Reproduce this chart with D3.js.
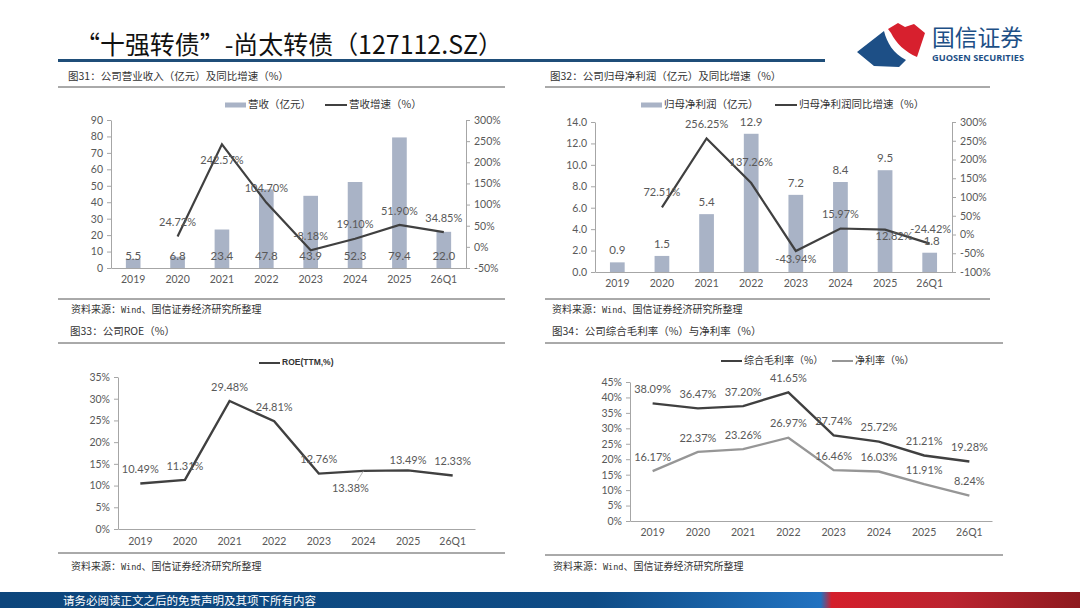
<!DOCTYPE html>
<html><head><meta charset="utf-8">
<script src="https://cdn.jsdelivr.net/npm/d3@7"></script>
<style>
html,body{margin:0;padding:0;background:#fff;}
svg{display:block;}
</style></head><body>
<svg id="c" width="1080" height="608"></svg>
<script>
// ---------- data ----------
const categories = ["2019","2020","2021","2022","2023","2024","2025","26Q1"];
const revenue = [5.5, 6.8, 23.4, 47.8, 43.9, 52.3, 79.4, 22.0];
const revenueGrowth = [null, 24.72, 242.57, 104.70, -8.18, 19.10, 51.90, 34.85];
const netProfit = [0.9, 1.5, 5.4, 12.9, 7.2, 8.4, 9.5, 1.8];
const netProfitGrowth = [null, 72.51, 256.25, 137.26, -43.94, 15.97, 12.82, -24.42];
const roe = [10.49, 11.31, 29.48, 24.81, 12.76, 13.38, 13.49, 12.33];
const grossMargin = [38.09, 36.47, 37.20, 41.65, 27.74, 25.72, 21.21, 19.28];
const netMargin = [16.17, 22.37, 23.26, 26.97, 16.46, 16.03, 11.91, 8.24];

const revTicks = [0,10,20,30,40,50,60,70,80,90];
const revGrowthTicks = [-50,0,50,100,150,200,250,300];
const profitTicks = [0,2,4,6,8,10,12,14];
const profitGrowthTicks = [-100,-50,0,50,100,150,200,250,300];
const roeTicks = [0,5,10,15,20,25,30,35];
const marginTicks = [0,5,10,15,20,25,30,35,40,45];

const pageTitle = "“十强转债”-尚太转债（127112.SZ）";
const chartTitles = ["图31：公司营业收入（亿元）及同比增速（%）","图32：公司归母净利润（亿元）及同比增速（%）","图33：公司ROE（%）","图34：公司综合毛利率（%）与净利率（%）"];
const sourceText = "资料来源：Wind、国信证券经济研究所整理";
const footerText = "请务必阅读正文之后的免责声明及其项下所有内容";

// ---------- styles ----------
const CJK = "'Noto Sans CJK SC','Noto Sans',sans-serif";
const NUM = "Lato,'Liberation Sans',sans-serif";
const AX = "#a6a6a6", TXT = "#595959", BAR = "#a9b3c6", DARK = "#404040", LIGHT = "#969696";

const svg = d3.select("#c");
svg.append("rect").attr("width",1080).attr("height",608).attr("fill","#fff");

// header
svg.append("text").attr("x",75).attr("y",54).attr("font-family",CJK).attr("font-size",25)
  .attr("fill","#111").attr("textLength",428).attr("lengthAdjust","spacingAndGlyphs").text(pageTitle);
svg.append("rect").attr("x",58).attr("y",59).attr("width",767).attr("height",3).attr("fill","#1f4e79");

// logo
const logo = svg.append("g");
logo.append("path").attr("d","M857,52 L884,31 C887,43 893,53 906,60 L899,67 L874,66 Z").attr("fill","#1d4f86");
logo.append("path").attr("d","M888,29 L898,23 L905,27 L914,24 L925,33 L917,57 C905,52 896,43 891,33 Z").attr("fill","#d7202e");
logo.append("text").attr("x",932).attr("y",46).attr("font-family",CJK).attr("font-size",23).attr("fill","#1d4f86")
  .attr("textLength",91).attr("lengthAdjust","spacingAndGlyphs").text("国信证券");
logo.append("text").attr("x",932).attr("y",61).attr("font-family","'Open Sans',sans-serif").attr("font-weight",700)
  .attr("font-size",8.5).attr("fill","#1d4f86").attr("textLength",92).attr("lengthAdjust","spacingAndGlyphs").text("GUOSEN SECURITIES");

// footer
const defs = svg.append("defs");
const grad = defs.append("linearGradient").attr("id","fg").attr("x1","0").attr("x2","1").attr("y1","0").attr("y2","0");
[[0,"#0d467c"],[0.55,"#0f4c86"],[0.70,"#1c68b0"],[0.76,"#2272c0"],[0.77,"#d41f2c"],[0.88,"#bb2430"],[1,"#8e1a1f"]]
  .forEach(s=>grad.append("stop").attr("offset",s[0]).attr("stop-color",s[1]));
svg.append("rect").attr("x",0).attr("y",592).attr("width",1080).attr("height",16).attr("fill","url(#fg)");
svg.append("text").attr("x",63).attr("y",605).attr("font-family",CJK).attr("font-size",11.5).attr("fill","#fff").text(footerText);

// panel frames
function panelFrame(p){
  svg.append("text").attr("x",p.tx).attr("y",p.ty).attr("font-family",CJK).attr("font-size",10.5).attr("fill","#333")
    .attr("dominant-baseline","middle").text(p.title);
  svg.append("line").attr("x1",p.x0).attr("x2",p.x1).attr("y1",p.l1).attr("y2",p.l1).attr("stroke","#555").attr("stroke-width",1);
  svg.append("line").attr("x1",p.x0).attr("x2",p.x1).attr("y1",p.l2).attr("y2",p.l2).attr("stroke","#555").attr("stroke-width",1);
  const t = svg.append("text").attr("x",p.sx).attr("y",p.sy).attr("font-family",CJK).attr("font-size",10).attr("fill","#333")
    .attr("dominant-baseline","middle");
  t.append("tspan").text("资料来源：");
  t.append("tspan").attr("font-family","'DejaVu Sans Mono',monospace").attr("font-size",8.5).text("Wind");
  t.append("tspan").text("、国信证券经济研究所整理");
}
panelFrame({title:chartTitles[0],tx:68,ty:77,x0:58,x1:505,l1:87,l2:299,sx:71,sy:310});
panelFrame({title:chartTitles[1],tx:550,ty:77,x0:545,x1:990,l1:87,l2:299,sx:552,sy:310});
panelFrame({title:chartTitles[2],tx:70,ty:332,x0:58,x1:505,l1:343,l2:553,sx:71,sy:567});
panelFrame({title:chartTitles[3],tx:552,ty:332,x0:545,x1:1003,l1:343,l2:555,sx:553,sy:567});

function styleAxis(g){
  g.attr("font-family",NUM).attr("font-size",10.5);
  g.select(".domain").attr("stroke",AX);
  g.selectAll(".tick line").attr("stroke",AX);
  g.selectAll(".tick text").attr("fill",TXT);
}
function xAxis(x,y0,pad){
  const g = svg.append("g").attr("transform",`translate(0,${y0})`)
    .call(d3.axisBottom(x).tickSize(0).tickSizeOuter(0).tickPadding(pad));
  styleAxis(g);
}
function yAxisLeft(y,x0,ticks,fmt){
  const g = svg.append("g").attr("transform",`translate(${x0},0)`)
    .call(d3.axisLeft(y).tickValues(ticks).tickFormat(fmt).tickSize(4).tickSizeOuter(0).tickPadding(4));
  styleAxis(g);
}
function yAxisRight(y,x0,ticks,fmt){
  const g = svg.append("g").attr("transform",`translate(${x0},0)`)
    .call(d3.axisRight(y).tickValues(ticks).tickFormat(fmt).tickSize(4).tickSizeOuter(0).tickPadding(4));
  styleAxis(g);
}
function label(x,y,txt,size){
  svg.append("text").attr("x",x).attr("y",y).attr("text-anchor","middle").attr("dominant-baseline","middle")
    .attr("font-family",NUM).attr("font-size",size||11).attr("fill",TXT).text(txt);
}
function legendBar(x,y,txt){
  svg.append("rect").attr("x",x).attr("y",y-2.5).attr("width",21).attr("height",5).attr("fill",BAR);
  svg.append("text").attr("x",x+23).attr("y",y).attr("dominant-baseline","middle").attr("font-family",CJK)
    .attr("font-size",10.5).attr("fill","#333").text(txt);
}
function legendLine(x,y,txt,color,w,fs,font,fw){
  svg.append("line").attr("x1",x).attr("x2",x+(w||22)).attr("y1",y).attr("y2",y).attr("stroke",color).attr("stroke-width",2);
  svg.append("text").attr("x",x+(w||22)+2).attr("y",y).attr("dominant-baseline","middle").attr("font-family",font||CJK)
    .attr("font-size",fs||10.5).attr("font-weight",fw||400).attr("fill","#333").text(txt);
}
const pct = d=>d+"%";
const fmt2 = d=>d.toFixed(2)+"%";

// ---------- Chart 1 ----------
{
  const x = d3.scaleBand().domain(categories).range([111,466]);
  const bw = x.bandwidth();
  const yL = d3.scaleLinear().domain([0,90]).range([268,120]);
  const yR = d3.scaleLinear().domain([-50,300]).range([268,120]);
  svg.append("g").selectAll("rect").data(revenue).join("rect")
    .attr("x",(d,i)=>x(categories[i])+bw*0.335).attr("width",bw*0.33)
    .attr("y",d=>yL(d)).attr("height",d=>yL(0)-yL(d)).attr("fill",BAR);
  xAxis(x,268,8);
  yAxisLeft(yL,111,revTicks,d=>d);
  yAxisRight(yR,466,revGrowthTicks,pct);
  const line = d3.line().defined(d=>d!=null).x((d,i)=>x(categories[i])+bw/2).y(d=>yR(d));
  svg.append("path").datum(revenueGrowth).attr("d",line).attr("fill","none").attr("stroke",DARK).attr("stroke-width",2.2);
  revenue.forEach((v,i)=>label(x(categories[i])+bw/2, yL(0)-11, v.toFixed(1), 11.5));
  const dy = [0,-13,17,-13,-13,-14,-13,-13];
  revenueGrowth.forEach((v,i)=>{ if(v!=null) label(x(categories[i])+bw/2, yR(v)+dy[i], fmt2(v)); });
  legendBar(225,105,"营收（亿元）");
  legendLine(325,105,"营收增速（%）",DARK);
}

// ---------- Chart 2 ----------
{
  const x = d3.scaleBand().domain(categories).range([595,952]);
  const bw = x.bandwidth();
  const yL = d3.scaleLinear().domain([0,14]).range([272,122]);
  const yR = d3.scaleLinear().domain([-100,300]).range([272,122]);
  svg.append("g").selectAll("rect").data(netProfit).join("rect")
    .attr("x",(d,i)=>x(categories[i])+bw*0.335).attr("width",bw*0.33)
    .attr("y",d=>yL(d)).attr("height",d=>yL(0)-yL(d)).attr("fill",BAR);
  xAxis(x,272,8);
  yAxisLeft(yL,595,profitTicks,d=>d.toFixed(1));
  yAxisRight(yR,952,profitGrowthTicks,pct);
  const line = d3.line().defined(d=>d!=null).x((d,i)=>x(categories[i])+bw/2).y(d=>yR(d));
  svg.append("path").datum(netProfitGrowth).attr("d",line).attr("fill","none").attr("stroke",DARK).attr("stroke-width",2.2);
  netProfit.forEach((v,i)=>label(x(categories[i])+bw/2+(i===7?2:0), yL(v)-11, v.toFixed(1), 11.5));
  const dy = [0,-14,-13,-20,9,-13,8,-13];
  const dx = [0,0,0,0,0,0,9,1];
  netProfitGrowth.forEach((v,i)=>{ if(v!=null) label(x(categories[i])+bw/2+dx[i], yR(v)+dy[i], fmt2(v)); });
  legendBar(641,105,"归母净利润（亿元）");
  legendLine(775,105,"归母净利润同比增速（%）",DARK);
}

// ---------- Chart 3 ----------
{
  const x = d3.scaleBand().domain(categories).range([118,475]);
  const bw = x.bandwidth();
  const y = d3.scaleLinear().domain([0,35]).range([529,377]);
  xAxis(x,529,9);
  yAxisLeft(y,118,roeTicks,pct);
  const line = d3.line().x((d,i)=>x(categories[i])+bw/2).y(d=>y(d));
  svg.append("path").datum(roe).attr("d",line).attr("fill","none").attr("stroke",DARK).attr("stroke-width",2.4);
  const dy = [-13,-13,-13,-13,-13,18,-9,-13];
  const dx = [0,0,0,0,0,-13,0,0];
  roe.forEach((v,i)=>label(x(categories[i])+bw/2+dx[i], y(v)+dy[i], fmt2(v)));
  const i5 = 5, cx = x(categories[i5])+bw/2;
  svg.append("line").attr("x1",cx).attr("y1",y(roe[i5])).attr("x2",cx-6).attr("y2",y(roe[i5])+10)
    .attr("stroke","#a6a6a6").attr("stroke-width",0.8);
  legendLine(259,363,"ROE(TTM,%)",DARK,21,8.5,"'Liberation Sans',sans-serif",700);
}

// ---------- Chart 4 ----------
{
  const x = d3.scaleBand().domain(categories).range([630,992]);
  const bw = x.bandwidth();
  const y = d3.scaleLinear().domain([0,45]).range([521,382]);
  xAxis(x,521,8);
  yAxisLeft(y,630,marginTicks,pct);
  const line = d3.line().x((d,i)=>x(categories[i])+bw/2).y(d=>y(d));
  svg.append("path").datum(grossMargin).attr("d",line).attr("fill","none").attr("stroke",DARK).attr("stroke-width",2.4);
  svg.append("path").datum(netMargin).attr("d",line).attr("fill","none").attr("stroke",LIGHT).attr("stroke-width",2.4);
  grossMargin.forEach((v,i)=>label(x(categories[i])+bw/2, y(v)-13, fmt2(v)));
  netMargin.forEach((v,i)=>label(x(categories[i])+bw/2, y(v)-13, fmt2(v)));
  legendLine(721,361,"综合毛利率（%）",DARK,21,10);
  legendLine(832,361,"净利率（%）",LIGHT,21,10);
}
</script>
</body></html>
